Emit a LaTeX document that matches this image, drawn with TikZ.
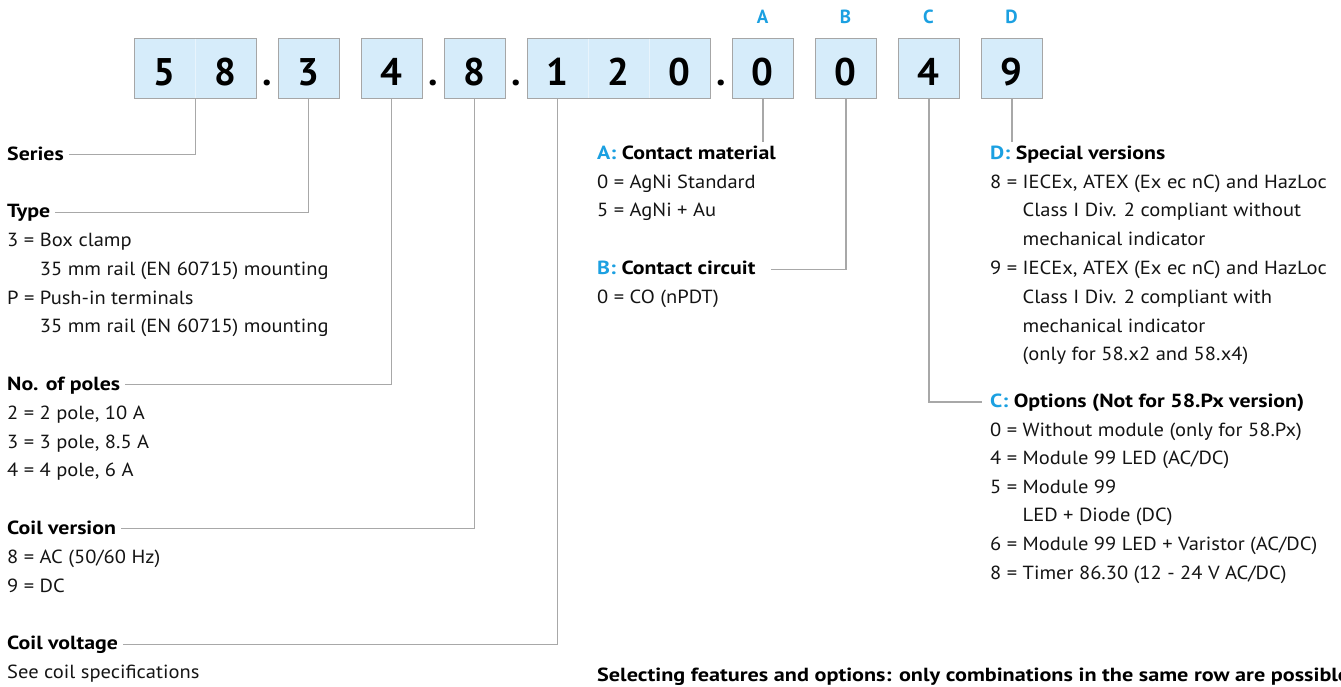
\documentclass[tikz,border=0pt]{standalone}
\usepackage{fontspec}
\setmainfont{PT Sans}[FakeStretch=1.08]
\newfontfamily\hfont{PT Sans}[FakeStretch=1.15]
\newfontfamily\dfont{PT Sans}
\usepackage{graphicx}
\usetikzlibrary{calc}
\definecolor{boxfill}{HTML}{D6ECFA}
\definecolor{boxline}{HTML}{A6A6A6}
\definecolor{divline}{HTML}{E8F4FC}
\definecolor{connline}{HTML}{A8A8A8}
\definecolor{fblue}{HTML}{1BA0E1}
\definecolor{txtcol}{HTML}{141414}
\newcommand{\fs}{\fontsize{19}{28.8}\selectfont}
\newcommand{\fsc}{\fontsize{19}{28.6}\selectfont}
\newcommand{\fhd}{\fontsize{19}{28.8}\selectfont\hfont\bfseries}
\newcommand{\fdig}{\fontsize{38.5}{40}\selectfont\dfont\bfseries}
\newcommand{\bl}[1]{{\color{fblue}#1}}
\begin{document}
\begin{tikzpicture}[x=1pt,y=1pt,
  codebox/.style={draw=boxline, fill=boxfill, line width=1pt, minimum height=60pt, inner sep=0pt, anchor=north west},
  celldiv/.style={draw=divline, line width=0.8pt},
  digit/.style={font=\fdig, text=black, inner sep=0pt, anchor=base},
  letter/.style={font=\fontsize{19}{28.8}\selectfont\dfont\bfseries, text=fblue, inner sep=0pt, anchor=base},
  head/.style={font=\fhd, text=black, inner sep=0pt, anchor=base west},
  body/.style={font=\fs, text=txtcol, inner sep=0pt, anchor=base west},
  bodyc/.style={font=\fsc, text=txtcol, inner sep=0pt, anchor=base west},
  foottext/.style={font=\fontsize{19}{28.8}\selectfont\dfont\bfseries, text=black, inner sep=0pt, anchor=base west},
  conn/.style={draw=connline, line width=1.1pt}
]
\useasboundingbox (0,0) rectangle (1341,-686);

% code boxes
\node[codebox, minimum width=122pt] (b58) at (134,-38) {};
\node[codebox, minimum width=61pt] (b3) at (278,-38) {};
\node[codebox, minimum width=61pt] (b4) at (361,-38) {};
\node[codebox, minimum width=61pt] (b8) at (444,-38) {};
\node[codebox, minimum width=183pt] (b120) at (527,-38) {};
\node[codebox, minimum width=61pt] (bA) at (732,-38) {};
\node[codebox, minimum width=61pt] (bB) at (815,-38) {};
\node[codebox, minimum width=61pt] (bC) at (898,-38) {};
\node[codebox, minimum width=61pt] (bD) at (981,-38) {};
\draw[celldiv] ($(b58.north)+(0,-0.6)$) -- ($(b58.south)+(0,0.6)$);
\draw[celldiv] ($(b120.north west)+(61,-0.6)$) -- ($(b120.south west)+(61,0.6)$);
\draw[celldiv] ($(b120.north west)+(122,-0.6)$) -- ($(b120.south west)+(122,0.6)$);

% digits
\node[digit] (d5) at (164.5,-85) {5};
\node[digit] (d8a) at (225.5,-85) {8};
\node[digit] (p1) at (267,-85) {.};
\node[digit] (d3) at (308.5,-85) {3};
\node[digit] (d4) at (391.5,-85) {4};
\node[digit] (p2) at (433,-85) {.};
\node[digit] (d8b) at (474.5,-85) {8};
\node[digit] (p3) at (516,-85) {.};
\node[digit] (d1) at (557.5,-85) {1};
\node[digit] (d2) at (618.5,-85) {2};
\node[digit] (d0a) at (679.5,-85) {0};
\node[digit] (p4) at (721,-85) {.};
\node[digit] (d0b) at (762.5,-85) {0};
\node[digit] (d0c) at (845.5,-85) {0};
\node[digit] (d4b) at (928.5,-85) {4};
\node[digit] (d9) at (1011.5,-85) {9};

% letters
\node[letter] (lA) at (762.5,-23) {A};
\node[letter] (lB) at (845.5,-23) {B};
\node[letter] (lC) at (928.5,-23) {C};
\node[letter] (lD) at (1011.5,-23) {D};

% left column
\node[head] (series) at (7,-160) {Series};
\node[head] (type) at (7,-217.6) {Type};
\node[body] (typeb) at (7,-246.4) {\begin{tabular}[t]{@{}l@{\ }l@{}}
3 = & Box clamp\\
 & 35 mm rail (EN 60715) mounting\\
P = & Push-in terminals\\
 & 35 mm rail (EN 60715) mounting
\end{tabular}};
\node[head] (poles) at (7,-390.4) {No. of poles};
\node[body] (polesb) at (7,-419.2) {\begin{tabular}[t]{@{}l@{}}
2 = 2 pole, 10 A\\
3 = 3 pole, 8.5 A\\
4 = 4 pole, 6 A
\end{tabular}};
\node[head] (coilv) at (7,-534.4) {Coil version};
\node[body] (coilvb) at (7,-563.2) {\begin{tabular}[t]{@{}l@{}}
8 = AC (50/60 Hz)\\
9 = DC
\end{tabular}};
\node[head] (coilu) at (7,-649.6) {Coil voltage};
\node[body] (coilub) at (7,-678.4) {See coil specifications};

% A / B column
\node[head] (ahead) at (597,-159) {\bl{A:} Contact material};
\node[body] (abody) at (597,-188) {\begin{tabular}[t]{@{}l@{}}
0 = AgNi Standard\\
5 = AgNi + Au
\end{tabular}};
\node[head] (bhead) at (597,-274.6) {\bl{B:} Contact circuit};
\node[body] (bbody) at (597,-303.4) {0 = CO (nPDT)};

% D / C column
\node[head] (dhead) at (990,-159) {\bl{D:} Special versions};
\node[body] (dbody) at (990,-188) {\begin{tabular}[t]{@{}l@{\ }l@{}}
8 = & IECEx, ATEX (Ex ec nC) and HazLoc\\
 & Class I Div. 2 compliant without\\
 & mechanical indicator\\
9 = & IECEx, ATEX (Ex ec nC) and HazLoc\\
 & Class I Div. 2 compliant with\\
 & mechanical indicator\\
 & (only for 58.x2 and 58.x4)
\end{tabular}};
\node[head] (chead) at (990,-407.5) {\bl{C:} Options (Not for 58.Px version)};
\node[bodyc] (cbody) at (990,-436) {\begin{tabular}[t]{@{}l@{\ }l@{}}
0 = & Without module (only for 58.Px)\\
4 = & Module 99 LED (AC/DC)\\
5 = & Module 99\\
 & LED + Diode (DC)\\
6 = & Module 99 LED + Varistor (AC/DC)\\
8 = & Timer 86.30 (12 - 24 V AC/DC)
\end{tabular}};

% footer
\node[foottext] (foot) at (597,-681) {\resizebox{752pt}{\height}{Selecting features and options: only combinations in the same row are possible}};

% connectors
\draw[conn] (b58.south) |- ($(series.base east)+(5,5.5)$);
\draw[conn] (d3 |- b3.south) |- ($(type.base east)+(5,5.5)$);
\draw[conn] (d4 |- b4.south) |- ($(poles.base east)+(5,5.5)$);
\draw[conn] (d8b |- b8.south) |- ($(coilv.base east)+(5,5.5)$);
\draw[conn] (d1 |- b120.south) |- ($(coilu.base east)+(5,5.5)$);
\draw[conn] (bA.south) -- ($(bA.south |- ahead.north)+(0,3)$);
\draw[conn] (bB.south) |- ($(bhead.base east)+(15,5.5)$);
\draw[conn] (bC.south) |- ($(chead.base west)+(-8,5.5)$);
\draw[conn] (bD.south) -- ($(bD.south |- dhead.north)+(0,3)$);
\end{tikzpicture}
\end{document}
